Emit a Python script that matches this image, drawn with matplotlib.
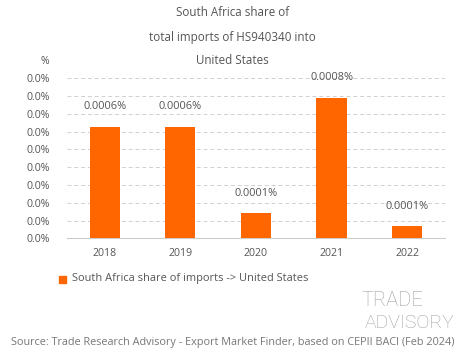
import matplotlib
matplotlib.use("Agg")
import matplotlib.pyplot as plt
from matplotlib.ticker import FuncFormatter, MultipleLocator

plt.rcParams['font.family'] = ['Open Sans', 'DejaVu Sans']

years = ["2018", "2019", "2020", "2021", "2022"]
shares = [0.000628, 0.000628, 0.000144, 0.000791, 0.000069]  # percent
labels = ["0.0006%", "0.0006%", "0.0001%", "0.0008%", "0.0001%"]
title_lines = ["South Africa share of", "total imports of HS940340 into", "United States"]
legend_label = "South Africa share of imports -> United States"
source = "Source: Trade Research Advisory - Export Market Finder, based on CEPII BACI (Feb 2024)"

bar_color = "#FF6600"
text_color = "#555555"

fig = plt.figure(figsize=(4.65, 3.59), dpi=100)
ax = fig.add_axes([0.144, 0.336, 0.813, 0.446])

x = range(len(years))
ax.bar(x, shares, width=0.4, color=bar_color, zorder=3)
for xi, v, lab in zip(x, shares, labels):
    ax.text(xi, v + 0.00008, lab, ha='center', va='bottom', fontsize=7.9, color=text_color)

ax.set_xlim(-0.5, 4.5)
ax.set_ylim(0, 0.0009)
ax.yaxis.set_major_locator(MultipleLocator(0.0001))
ax.yaxis.set_major_formatter(FuncFormatter(lambda v, p: f"{v:.1f}%"))
ax.set_xticks(list(x))
ax.set_xticklabels(years)
ax.tick_params(axis='both', length=0, labelsize=7.6, colors=text_color)
ax.tick_params(axis='y', pad=12)
ax.tick_params(axis='x', pad=7)
ax.grid(axis='y', linestyle=(0, (4, 3)), color='#d0d0d0', linewidth=0.7, zorder=0)
for s in ['top', 'right', 'left']:
    ax.spines[s].set_visible(False)
ax.spines['bottom'].set_color('#cccccc')
ax.spines['bottom'].set_linewidth(0.8)

# title
for i, line in enumerate(title_lines):
    fig.text(0.5, 1 - (13 + 24 * i) / 359, line, ha='center', va='center', fontsize=8.4, color=text_color)
fig.text(45 / 465, 1 - 61 / 359, "%", ha='center', va='center', fontsize=7.6, color=text_color)

# legend
fig.patches.append(matplotlib.patches.Rectangle((59 / 465, 1 - 283 / 359), 7 / 465, 7 / 359,
                                                transform=fig.transFigure, color=bar_color))
fig.text(72 / 465, 1 - 278.5 / 359, legend_label, ha='left', va='center', fontsize=7.9, color=text_color)

# logo
logo_font = ['Roboto', 'DejaVu Sans']
fig.text(392 / 465, 1 - 300 / 359, "TRADE", ha='center', va='center', fontsize=14.5, color='#a0a0a0',
         family=logo_font, fontweight='light')
fig.text(410 / 465, 1 - 323 / 359, "ADVISORY", ha='center', va='center', fontsize=14, color='#a0a0a0',
         family=logo_font, fontweight='light')

# source
fig.text(0.5, 1 - 343 / 359, source, ha='center', va='center', fontsize=7.8, color='#777777')

fig.savefig("out.png", dpi=100)
